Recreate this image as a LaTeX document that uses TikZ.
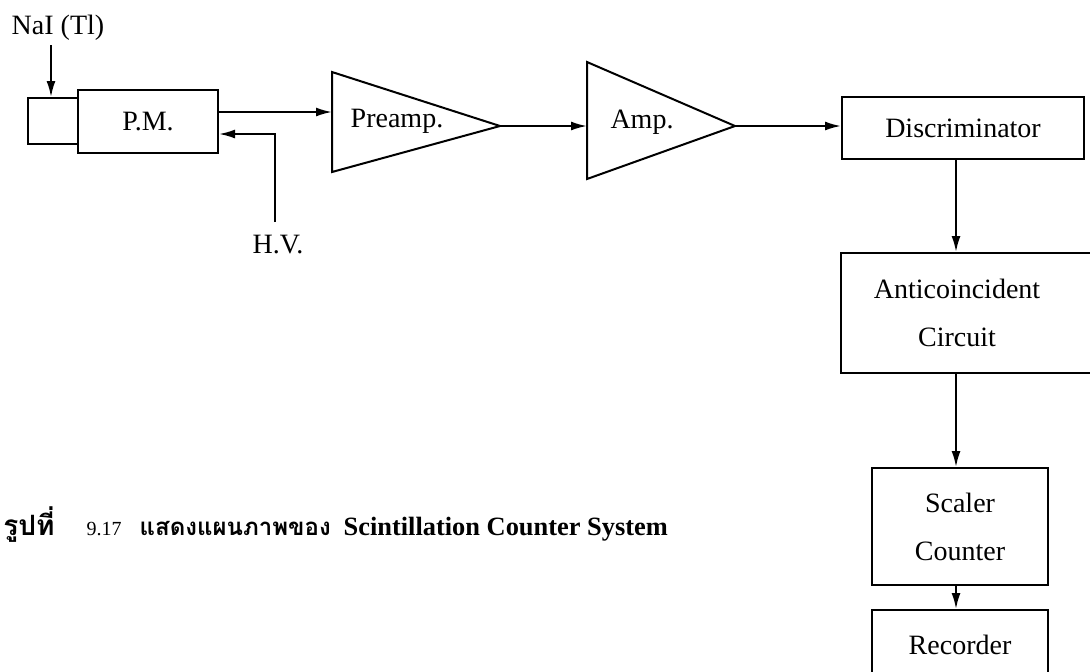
\documentclass[tikz,border=0pt]{standalone}
\usepackage{fontspec}
\setmainfont{Liberation Serif}
\newfontfamily\thaifont[Script=Thai]{Loma}
\usetikzlibrary{arrows.meta, positioning}

\tikzset{
  blk/.style={draw, line width=1pt, inner sep=0pt, align=center,
    font=\fontsize{14}{24}\selectfont},
  lbl/.style={inner sep=0pt, align=center, font=\fontsize{14}{24}\selectfont},
  sig/.style={-{Latex[length=8pt, width=4.5pt]}, line width=1pt},
}

\begin{document}
\begin{tikzpicture}[x=0.5pt, y=-0.5pt]
  \useasboundingbox (0,0) rectangle (1090,671);
  \clip (0,0) rectangle (1090,671);

  % detector: crystal + photomultiplier
  \node[blk, minimum width=25pt, minimum height=23pt] (crys) at (53,121) {};
  \node[blk, minimum width=70pt, minimum height=31.5pt] (pm) at (148,121.5) {P.M.};
  \node[lbl] (nai) at (58,28) {NaI (Tl)};
  \coordinate (naitip) at (51,45);
  \draw[sig] (naitip) -- (naitip |- crys.north);

  % high voltage feed
  \node[lbl] (hv) at (278,245) {H.V.};
  \coordinate (hvfoot) at (275,222);
  \coordinate (hvbend) at (275,134);
  \draw[sig] (hvfoot) -- (hvbend) -- (pm.east |- hvbend);

  % amplifier chain
  \draw[line width=1pt] (332,72) -- (500,126) coordinate (pretip) -- (332,172) -- cycle;
  \node[lbl] (pre) at (397,121) {Preamp.};
  \coordinate (prein) at (332,112);
  \draw[sig] (pm.east |- prein) -- (prein);

  \draw[line width=1pt] (587,62) -- (735,126) coordinate (amptip) -- (587,179) -- cycle;
  \node[lbl] (amp) at (642,122) {Amp.};
  \coordinate (ampin) at (587,126);
  \draw[sig] (pretip) -- (ampin);

  % counting chain
  \coordinate (col) at (956,0);
  \node[blk, minimum width=121pt, minimum height=31pt] (disc) at (963,128) {Discriminator};
  \draw[sig] (amptip) -- (disc.west |- amptip);

  \node[blk, minimum width=130pt, minimum height=60pt] (anti) at (971,313) {};
  \node[lbl] (antitxt) at (957,313) {Anticoincident\\Circuit};
  \draw[sig] (disc.south -| col) -- (anti.north -| col);

  \node[blk, minimum width=88pt, minimum height=58.5pt] (scal) at (960,526.5) {Scaler\\Counter};
  \draw[sig] (anti.south -| col) -- (scal.north -| col);

  \node[blk, minimum width=88pt, minimum height=35pt] (rec) at (960,645) {Recorder};
  \draw[sig] (scal.south -| col) -- (rec.north -| col);

  % caption
  \node[anchor=base west, inner sep=0pt] (cap) at (3,535)
    {{\thaifont\bfseries\fontsize{14}{16}\selectfont รูปที่}\hspace{16pt}%
     {\fontsize{10}{12}\selectfont 9.17}\hspace{9pt}%
     {\thaifont\bfseries\fontsize{12}{14}\selectfont แสดงแผนภาพของ}\hspace{6.5pt}%
     {\bfseries\fontsize{13.2}{16}\selectfont Scintillation Counter System}};
\end{tikzpicture}
\end{document}
